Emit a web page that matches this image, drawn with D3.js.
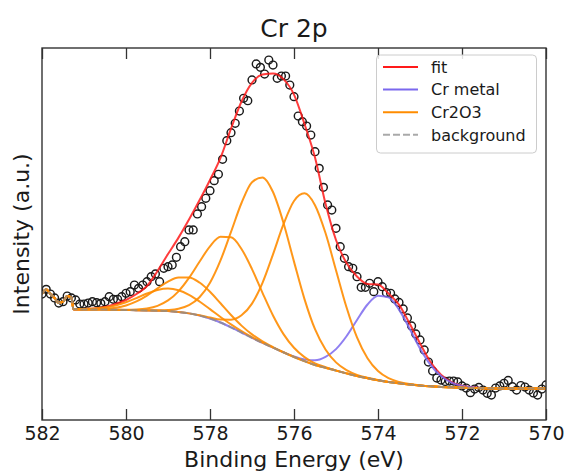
<!DOCTYPE html>
<html><head><meta charset="utf-8">
<script src="https://cdn.jsdelivr.net/npm/d3@7"></script>
<style>
body{margin:0;background:#fff}
svg{display:block}
text{font-family:"DejaVu Sans",sans-serif;fill:#1a1a1a}
</style>
</head><body>
<svg id="chart" width="565" height="471"></svg>
<script>
// ---- measured spectrum (binding energy, eV) ----
const dataEnergy = [582.0,581.9,581.8,581.7,581.6,581.5,581.4,581.3,581.2,581.1,581.0,580.9,580.8,580.7,580.6,580.5,580.4,580.3,580.2,580.1,580.0,579.9,579.8,579.7,579.6,579.5,579.4,579.3,579.2,579.1,579.0,578.9,578.8,578.7,578.6,578.5,578.4,578.3,578.2,578.1,578.0,577.9,577.8,577.7,577.6,577.5,577.4,577.3,577.2,577.1,577.0,576.9,576.8,576.7,576.6,576.5,576.4,576.3,576.2,576.1,576.0,575.9,575.8,575.7,575.6,575.5,575.4,575.3,575.2,575.1,575.0,574.9,574.8,574.7,574.6,574.5,574.4,574.3,574.2,574.1,574.0,573.9,573.8,573.7,573.6,573.5,573.4,573.3,573.2,573.1,573.0,572.9,572.8,572.7,572.6,572.5,572.4,572.3,572.2,572.1,572.0,571.9,571.8,571.7,571.6,571.5,571.4,571.3,571.2,571.1,571.0,570.9,570.8,570.7,570.6,570.5,570.4,570.3,570.2,570.1,570.0];
const dataIntensity = [33.87,35.13,33.87,32.80,31.45,31.80,33.33,32.80,32.26,31.18,
31.18,31.45,31.80,31.53,31.37,31.80,33.15,32.45,32.45,33.15,
34.06,34.49,36.29,35.40,36.29,37.18,38.52,39.25,37.18,40.78,
41.21,41.67,43.74,46.59,47.93,51.08,51.08,55.38,57.34,59.60,
61.64,64.33,66.05,70.08,75.08,77.23,79.76,83.06,86.48,85.83,
91.40,95.70,94.81,93.01,96.77,95.43,91.85,92.47,92.47,90.05,
86.91,81.72,80.19,79.03,76.61,72.12,67.66,62.55,57.80,56.45,
51.53,46.59,43.47,41.21,40.78,38.52,35.67,35.67,36.75,34.49,
37.18,35.83,34.22,34.06,32.53,31.59,29.84,27.42,25.27,23.12,
21.51,18.82,15.59,13.17,11.29,10.75,10.35,10.48,10.48,10.22,
9.14,8.60,7.34,8.33,8.74,8.06,7.18,6.72,8.60,9.14,
9.87,10.62,8.95,8.06,9.27,8.87,8.06,7.26,6.72,8.33,9.41];

// ---- fit window (eV) ----
const fitEnergy = [581.25,581.0,580.75,580.5,580.25,580.0,579.75,579.5,579.25,579.0,578.75,578.5,578.25,578.0,577.75,577.5,577.25,577.0,576.75,576.5,576.25,576.0,575.75,575.5,575.25,575.0,574.75,574.5,574.25,574.0,573.75,573.5,573.25,573.0,572.75,572.5,572.25,572.0,571.75,571.5,571.25,571.0,570.75,570.5,570.25,570.0];
// number of leading data points that the background follows before the fit window
const preCount = 8;

const fitIntensity = [29.70,29.84,29.97,30.38,31.18,32.26,33.87,36.02,40.05,44.60,
49.03,53.90,59.06,64.52,70.48,78.31,85.62,90.65,92.85,93.17,
91.64,87.47,79.57,70.56,58.20,48.39,42.20,38.58,36.56,36.42,
34.0,31.0,26.0,20.6,15.6,12.2,10.2,9.2,8.8,8.55,
8.49,8.47,8.47,8.47,8.47,8.47];

const background = [29.76,29.73,29.70,29.68,29.62,29.57,29.52,29.46,29.38,29.27,
29.03,28.66,28.09,27.28,26.21,24.92,23.52,22.10,20.75,19.46,
18.17,16.94,15.81,14.78,14.06,13.28,12.53,11.83,11.24,10.70,
10.24,9.87,9.54,9.27,9.06,8.90,8.79,8.68,8.60,8.52,
8.49,8.47,8.47,8.47,8.47,8.47];

// component peaks above background
const crMetal = [0,0,0,0,0,0,0,0,0,0,
0,0,0,0,0,0,0,0,0,0,
0.05,0.16,0.49,1.27,2.90,5.77,9.98,15.06,19.81,22.73,
22.73,19.81,15.06,9.98,5.77,2.90,1.27,0.49,0.16,0.05,
0,0,0,0,0,0];
const cr2o3_1 = [0,0,0,0,0,0,0.01,0.03,0.10,0.31,
0.88,2.21,4.91,9.62,16.69,25.63,34.81,41.82,44.46,41.82,
34.81,25.63,16.69,9.62,4.91,2.21,0.88,0.31,0.10,0.03,
0.01,0,0,0,0,0,0,0,0,0,
0,0,0,0,0,0];
const cr2o3_2 = [0,0,0,0,0,0,0,0,0,0,
0,0,0.09,0.28,0.81,2.06,4.62,9.19,16.13,25.07,
34.47,41.94,45.13,42.97,36.20,26.98,17.79,10.38,5.36,2.45,
0.99,0.35,0.11,0.03,0,0,0,0,0,0,
0,0,0,0,0,0];
const cr2o3_3 = [0,0,0,0,0.02,0.06,0.19,0.53,1.31,2.87,
5.56,9.53,14.45,19.39,23.02,24.18,22.46,18.47,13.43,8.64,
4.92,2.48,1.10,0.44,0.15,0.05,0.01,0,0,0,
0,0,0,0,0,0,0,0,0,0,
0,0,0,0,0,0];
const cr2o3_4 = [0.01,0.03,0.08,0.23,0.57,1.23,2.36,4.00,5.99,7.94,
9.31,9.66,8.86,7.20,5.17,3.29,1.85,0.92,0.41,0.16,
0.05,0.02,0,0,0,0,0,0,0,0,
0,0,0,0,0,0,0,0,0,0,
0,0,0,0,0,0];
const cr2o3_5 = [0.03,0.10,0.26,0.58,1.16,2.07,3.26,4.54,5.59,6.09,
5.87,5.00,3.77,2.52,1.49,0.78,0.36,0.15,0.05,0.02,
0,0,0,0,0,0,0,0,0,0,
0,0,0,0,0,0,0,0,0,0,
0,0,0,0,0,0];

const xTicks = [582,580,578,576,574,572,570];
const legendItems = ["fit","Cr metal","Cr2O3","background"];

// ---- drawing ----
const m = {left:42, right:546, top:48, bottom:420};
const svg = d3.select("#chart");

const x = d3.scaleLinear().domain([582,570]).range([m.left,m.right]);
const y = d3.scaleLinear().domain([0,100]).range([m.bottom,m.top]);

svg.append("defs").append("clipPath").attr("id","clip")
  .append("rect").attr("x",m.left).attr("y",m.top)
  .attr("width",m.right-m.left).attr("height",m.bottom-m.top);

const plot = svg.append("g").attr("clip-path","url(#clip)");

const line = d3.line().x(d=>x(d[0])).y(d=>y(d[1])).curve(d3.curveMonotoneX);

const pre = dataEnergy.slice(0,preCount).map((e,j)=>[e,dataIntensity[j]]);
const withBg = arr => pre.concat(fitEnergy.map((e,i)=>[e, background[i]+arr[i]]));

// data points
plot.append("g").selectAll("circle").data(dataEnergy.map((e,i)=>[e,dataIntensity[i]]))
  .join("circle")
  .attr("cx",d=>x(d[0])).attr("cy",d=>y(d[1])).attr("r",3.9)
  .attr("fill","none").attr("stroke","#1a1a1a").attr("stroke-width",1.45);

const cRed="#ff1a1a", cBlue="#7b68ee", cOrange="#ff8c00", cGray="#8c8c8c";

plot.append("path").datum(fitEnergy.map((e,i)=>[e,fitIntensity[i]]))
  .attr("d",line).attr("fill","none").attr("stroke",cRed).attr("stroke-width",2).attr("stroke-opacity",0.85);

plot.append("path").datum(withBg(crMetal))
  .attr("d",line).attr("fill","none").attr("stroke",cBlue).attr("stroke-width",2).attr("stroke-opacity",0.85);

[cr2o3_1,cr2o3_2,cr2o3_3,cr2o3_4,cr2o3_5].forEach(c=>{
  plot.append("path").datum(withBg(c))
    .attr("d",line).attr("fill","none").attr("stroke",cOrange).attr("stroke-width",2).attr("stroke-opacity",0.9);
});

plot.append("path").datum(withBg(background.map(()=>0)))
  .attr("d",line).attr("fill","none").attr("stroke",cGray).attr("stroke-width",2)
  .attr("stroke-dasharray","7,3").attr("stroke-opacity",0.75);

// axes
const axB = svg.append("g").attr("transform",`translate(0,${m.bottom})`)
  .call(d3.axisBottom(x).tickValues(xTicks).tickFormat(d3.format("d"))
    .tickSizeInner(-11).tickSizeOuter(0).tickPadding(7));
axB.select(".domain").remove();
axB.selectAll(".tick line").attr("stroke","#333").attr("stroke-width",1.3);
axB.selectAll(".tick text").attr("font-size",19).attr("fill","#1a1a1a")
  .attr("font-family","DejaVu Sans, sans-serif");

const axT = svg.append("g").attr("transform",`translate(0,${m.top})`)
  .call(d3.axisTop(x).tickValues(xTicks).tickFormat("")
    .tickSizeInner(-11).tickSizeOuter(0));
axT.select(".domain").remove();
axT.selectAll(".tick line").attr("stroke","#333").attr("stroke-width",1.3);

svg.append("rect").attr("x",m.left).attr("y",m.top)
  .attr("width",m.right-m.left).attr("height",m.bottom-m.top)
  .attr("fill","none").attr("stroke","#333").attr("stroke-width",1.4);

// labels
svg.append("text").attr("x",(m.left+m.right)/2).attr("y",37)
  .attr("text-anchor","middle").attr("font-size",25).text("Cr 2p");
svg.append("text").attr("x",(m.left+m.right)/2).attr("y",467)
  .attr("text-anchor","middle").attr("font-size",22).text("Binding Energy (eV)");
svg.append("text").attr("transform",`translate(29,${(m.top+m.bottom)/2}) rotate(-90)`)
  .attr("text-anchor","middle").attr("font-size",22).text("Intensity (a.u.)");

// legend
const lg = svg.append("g");
lg.append("rect").attr("x",376.5).attr("y",55).attr("width",160).attr("height",98)
  .attr("rx",4).attr("fill","#fff").attr("fill-opacity",0.85)
  .attr("stroke","#cccccc").attr("stroke-width",1);
const lgColors=[cRed,cBlue,cOrange,cGray];
legendItems.forEach((t,i)=>{
  const yy = 67 + i*22.6;
  const l = lg.append("line").attr("x1",383).attr("x2",418).attr("y1",yy).attr("y2",yy)
    .attr("stroke",lgColors[i]).attr("stroke-width",2);
  if(i===3) l.attr("stroke-dasharray","7,3").attr("stroke-opacity",0.75);
  lg.append("text").attr("x",431).attr("y",yy).attr("dy","0.36em")
    .attr("font-size",16).text(t);
});
</script>
</body></html>
